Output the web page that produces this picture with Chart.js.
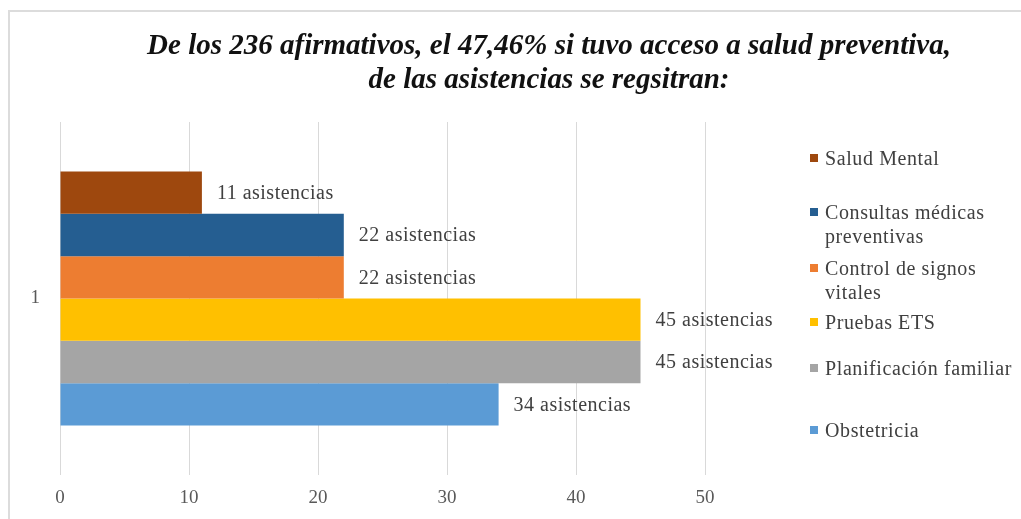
<!DOCTYPE html>
<html>
<head>
<meta charset="utf-8">
<script src="https://cdn.jsdelivr.net/npm/chart.js@4"></script>
<style>
  html, body { margin: 0; padding: 0; background: #fff; }
  #wrap { position: relative; width: 1021px; height: 519px; overflow: hidden; }
  #frame { position: absolute; left: 8px; top: 10px; width: 1100px; height: 600px; border: 2px solid #dcdcdc; box-sizing: border-box; }
  #chart { position: absolute; left: 0; top: 0; }
  #title { position: absolute; left: 99px; width: 900px; top: 27px; text-align: center;
           font-family: 'Liberation Serif', 'Times New Roman', serif; font-weight: bold; font-style: italic;
           font-size: 29px; line-height: 34px; color: #111; white-space: nowrap; }
  .leg { position: absolute; left: 810px; width: 207px; font-family: 'Liberation Serif', 'Times New Roman', serif;
         font-size: 20px; letter-spacing: 0.6px; line-height: 24px; color: #404040; padding-left: 15px; box-sizing: border-box; }
  .leg i { position: absolute; left: 0; top: 8px; width: 8px; height: 8px; }
</style>
</head>
<body>
<div id="wrap">
  <div id="frame"></div>
  <canvas id="chart" width="1021" height="519"></canvas>
  <div id="title">De los 236 afirmativos, el 47,46% si tuvo acceso a salud preventiva,<br>de las asistencias se regsitran:</div>
  <div id="legend"></div>
</div>
<script>
// Chart data
const categories = ['1'];
const seriesNames = ['Salud Mental', 'Consultas médicas preventivas', 'Control de signos vitales', 'Pruebas ETS', 'Planificación familiar', 'Obstetricia'];
const seriesValues = [11, 22, 22, 45, 45, 34];
const seriesColors = ['#9E480E', '#255E91', '#ED7D31', '#FFC000', '#A5A5A5', '#5B9BD5'];
const xTickValues = [0, 10, 20, 30, 40, 50];
const labelSuffix = ' asistencias';

// legend entry tops (layout only)
const legendTops = [146, 200, 256, 310, 356, 418];

const serif = "'Liberation Serif', 'Times New Roman', serif";

// Legend
const legend = document.getElementById('legend');
seriesNames.forEach(function(name, i) {
    const entry = document.createElement('div');
    entry.className = 'leg';
    entry.style.top = legendTops[i] + 'px';
    const sq = document.createElement('i');
    sq.style.background = seriesColors[i];
    entry.appendChild(sq);
    entry.appendChild(document.createTextNode(name));
    legend.appendChild(entry);
});

// value labels at bar ends
const barLabels = {
    id: 'barLabels',
    afterDatasetsDraw: function(chart) {
        const ctx = chart.ctx;
        ctx.save();
        ctx.font = '20px ' + serif;
        ctx.letterSpacing = '0.5px';
        ctx.fillStyle = '#404040';
        ctx.textAlign = 'left';
        ctx.textBaseline = 'middle';
        chart.data.datasets.forEach(function(ds, i) {
            const meta = chart.getDatasetMeta(i);
            meta.data.forEach(function(bar, j) {
                ctx.fillText(ds.data[j] + labelSuffix, bar.x + 15, bar.y + 1);
            });
        });
        ctx.restore();
    }
};

const chart = new Chart(document.getElementById('chart'), {
    type: 'bar',
    data: {
        labels: categories,
        datasets: seriesNames.map(function(name, i) {
            return {
                label: name,
                data: [seriesValues[i]],
                backgroundColor: seriesColors[i],
                borderWidth: 0,
                categoryPercentage: 0.72,
                barPercentage: 1
            };
        })
    },
    options: {
        indexAxis: 'y',
        responsive: false,
        animation: false,
        layout: { padding: { top: 122, left: 10, right: 316, bottom: 10 } },
        plugins: {
            legend: { display: false },
            title: { display: false },
            tooltip: { enabled: false }
        },
        scales: {
            x: {
                min: xTickValues[0],
                max: xTickValues[xTickValues.length - 1],
                afterBuildTicks: function(scale) {
                    scale.ticks = xTickValues.map(function(v) { return { value: v }; });
                },
                afterFit: function(scale) { scale.height = 34; },
                grid: { color: '#d9d9d9', drawTicks: false },
                border: { display: false },
                ticks: { padding: 12, color: '#595959', font: { family: serif, size: 19 } }
            },
            y: {
                afterFit: function(scale) { scale.width = 50; },
                grid: { display: false },
                border: { display: false },
                ticks: { padding: 12, color: '#595959', font: { family: serif, size: 19 } }
            }
        }
    },
    plugins: [barLabels]
});
</script>
</body>
</html>
